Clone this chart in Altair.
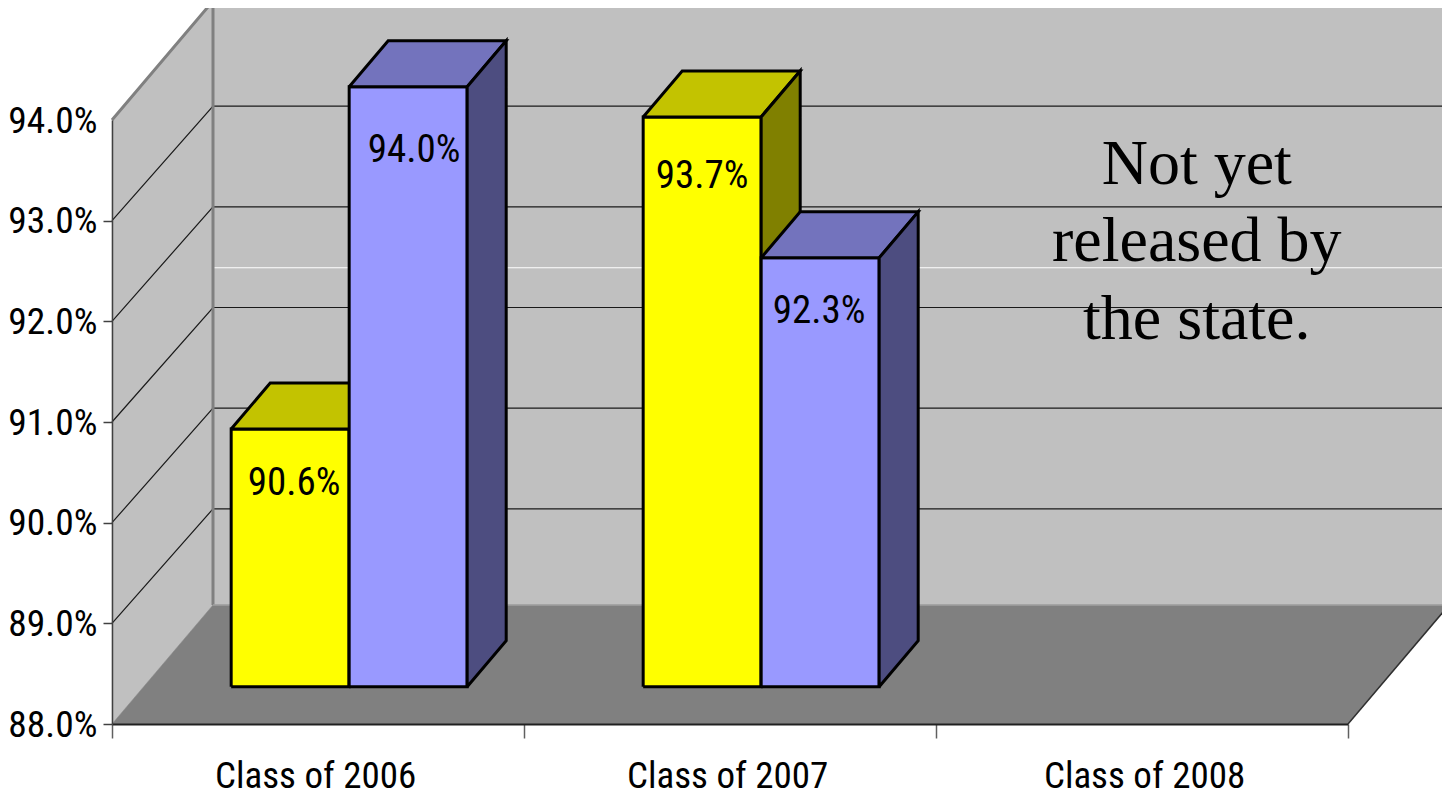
import altair as alt
import pandas as pd

# ---- data
categories = ["Class of 2006", "Class of 2007", "Class of 2008"]
series_a = [90.56, 93.66]   # yellow bars
series_b = [93.96, 92.26]   # blue bars
y_ticks = [88, 89, 90, 91, 92, 93, 94]
note_lines = ["Not yet", "released by", "the state."]

FONT = "Roboto Condensed"
FS_PCT = 39
FS_AXIS = 37.5
FS_CAT = 37
Y0, Y1 = 88.0, 94.0
XMAX = 3.0
W, H = 1236, 604
PX_X = W / XMAX          # px per category
PX_Y = H / (Y1 - Y0)     # px per percentage point
DX, DY = 101 / PX_X, 119 / PX_Y   # full depth shift of the back wall, in data units
GRID_DROP = 4.5 / PX_Y            # gridlines meet the back wall slightly lower
BAR_D0, BAR_D1 = 0.3136, 0.70     # bar depth span
BAR_W = 118 / PX_X
GAP = 87.5 / PX_X


def proj(x, v, d=0.0):
    return x + d * DX, v + d * DY


rows = []
lines = []


def poly(name, pts, fill, stroke, sw=3):
    closed = list(pts) + [pts[0]]
    for i, (x, y) in enumerate(closed):
        rows.append(dict(poly=name, i=i, x=x, y=y, fill=fill, stroke=stroke, sw=sw))


def line(name, pts, stroke, sw=1.0):
    for i, (x, y) in enumerate(pts):
        lines.append(dict(poly=name, i=i, x=x, y=y, stroke=stroke, sw=sw))


WALL, FLOOR, EDGE = "#c0c0c0", "#808080", "#808080"
poly("left", [proj(0, Y0, 0), proj(0, Y1, 0), proj(0, Y1, 1), proj(0, Y0, 1)], WALL, WALL, 0.5)
poly("back", [proj(0, Y0, 1), proj(0, Y1, 1), proj(XMAX, Y1, 1), proj(XMAX, Y0, 1)], WALL, WALL, 0.5)
poly("floor", [proj(0, Y0, 0), proj(XMAX, Y0, 0), proj(XMAX, Y0, 1), proj(0, Y0, 1)], FLOOR, FLOOR, 0.5)

for v in y_ticks[1:-1]:
    line(f"grid{v}", [proj(0, v, 0), proj(0, v - GRID_DROP, 1), proj(XMAX, v - GRID_DROP, 1)], "#1a1a1a", 1.2)
line("white", [proj(0, 91.35, 1), proj(XMAX, 91.35, 1)], "#ffffff", 1.2)
line("edge", [proj(0, Y1, 0), proj(0, Y1, 1), proj(XMAX, Y1, 1)], EDGE, 3)
line("edge2", [proj(0, Y0, 1), proj(0, Y1, 1)], EDGE, 3)
line("edge3", [proj(0, Y0, 1), proj(XMAX, Y0, 1), proj(XMAX, Y1, 1)], "#a0a0a0", 1.5)
line("edge4", [proj(XMAX, Y0, 0), proj(XMAX, Y0, 1)], "#303030", 1.5)

bars = []
for c, (a, b) in enumerate(zip(series_a, series_b)):
    bars.append((c + GAP, a, "#ffff00", "#c3c300", "#808000"))
    bars.append((c + GAP + BAR_W, b, "#9999ff", "#7373bd", "#4d4d80"))

for k, (x0, v, front, top, side) in enumerate(bars):
    x1 = x0 + BAR_W
    poly(f"bar{k}front", [proj(x0, Y0, BAR_D0), proj(x0, v, BAR_D0), proj(x1, v, BAR_D0), proj(x1, Y0, BAR_D0)], front, "#000000")
    poly(f"bar{k}top", [proj(x0, v, BAR_D0), proj(x0, v, BAR_D1), proj(x1, v, BAR_D1), proj(x1, v, BAR_D0)], top, "#000000")
    poly(f"bar{k}side", [proj(x1, Y0, BAR_D0), proj(x1, v, BAR_D0), proj(x1, v, BAR_D1), proj(x1, Y0, BAR_D1)], side, "#000000")

xs = alt.Scale(domain=[0, XMAX], nice=False, zero=False)
ys = alt.Scale(domain=[Y0, Y1], nice=False, zero=False)
X = alt.X("x:Q", scale=xs, axis=None)
Y = alt.Y("y:Q", scale=ys, axis=None)

poly_df = pd.DataFrame(rows)
is_bar = poly_df.poly.str.startswith("bar")


def filled(df):
    return alt.Chart(df).mark_line(strokeJoin="miter").encode(
        x=X, y=Y, order="i:Q", detail="poly:N",
        fill=alt.Fill("fill:N", scale=None),
        stroke=alt.Stroke("stroke:N", scale=None),
        strokeWidth=alt.StrokeWidth("sw:Q", scale=None),
    )


faces = filled(poly_df[~is_bar])
barfaces = filled(poly_df[is_bar])
grid = alt.Chart(pd.DataFrame(lines)).mark_line(strokeJoin="miter").encode(
    x=X, y=Y, order="i:Q", detail="poly:N",
    stroke=alt.Stroke("stroke:N", scale=None),
    strokeWidth=alt.StrokeWidth("sw:Q", scale=None),
)

# data labels: pixel nudges from each bar's front-top centre
label_dx = [4, 6, 0, -1]
label_dy = [54, 63, 59, 53]
lab = []
for k, (x0, v, *_ ) in enumerate(bars):
    cx, cy = proj(x0 + BAR_W / 2, v, BAR_D0)
    lab.append(dict(x=cx + label_dx[k] / PX_X, y=cy - label_dy[k] / PX_Y, t=f"{v:.1f}%"))
labels = alt.Chart(pd.DataFrame(lab)).mark_text(
    font=FONT, fontSize=FS_PCT, color="#000000", baseline="middle"
).encode(x=X, y=Y, text="t:N")

note_y = [93.55, 92.79, 92.01]
note = alt.Chart(pd.DataFrame({"x": [2.633] * 3, "y": note_y, "t": note_lines})).mark_text(
    font="Liberation Serif", fontSize=64, color="#000000", baseline="middle"
).encode(x=X, y=Y, text="t:N")

# axes
anchor = pd.DataFrame({"x": [0.0], "y": [Y0]})
label_pos = [0.493, 1.493, 2.505]
tick_axis = alt.Chart(anchor).mark_point(opacity=0).encode(
    x=alt.X("x:Q", scale=xs, title=None, axis=alt.Axis(
        orient="bottom", values=[0, 1, 2, 3], labels=False, grid=False, domain=True, domainColor="#202020",
        domainWidth=2, tickColor="#606060", tickWidth=1.5, tickSize=14, zindex=1)),
    y=alt.Y("y:Q", scale=ys, title=None, axis=alt.Axis(
        orient="left", values=y_ticks[:-1], labels=False,
        tickSize=9, tickColor="#404040", tickWidth=1.5,
        domainColor="#404040", domainWidth=1.5, grid=False, zindex=1)),
)
cat_expr = "['" + "','".join(categories) + "'][floor(datum.value)]"
label_axis = alt.Chart(anchor).mark_point(opacity=0).encode(
    x=alt.X("x:Q", scale=xs, title=None, axis=alt.Axis(
        orient="bottom", values=label_pos, labelExpr=cat_expr, ticks=False, domain=False, grid=False,
        labelFont=FONT, labelFontSize=FS_CAT, labelColor="#000000", labelPadding=34, labelLimit=600,
        labelOverlap=False, labelFlush=False, zindex=1)),
    y=alt.Y("y:Q", scale=ys, title=None, axis=alt.Axis(
        orient="left", values=y_ticks, labelExpr="format(datum.value, '.1f') + '%'",
        labelFont=FONT, labelFontSize=FS_AXIS, labelColor="#000000", labelPadding=15, labelOffset=1,
        labelLimit=300, ticks=False, domain=False, grid=False, labelOverlap=False, labelFlush=False, zindex=1)),
)

chart = (
    alt.layer(faces, grid, barfaces, labels, note, tick_axis, label_axis)
    .resolve_axis(x="independent", y="independent")
    .properties(
        width=W, height=H,
        autosize=alt.AutoSizeParams(type="none"),
        padding={"left": 104, "top": 112, "right": 94, "bottom": 72},
        background="#ffffff",
    )
    .configure_view(stroke=None)
)
chart.save("out.html", embed_options={"renderer": "svg", "actions": False})
